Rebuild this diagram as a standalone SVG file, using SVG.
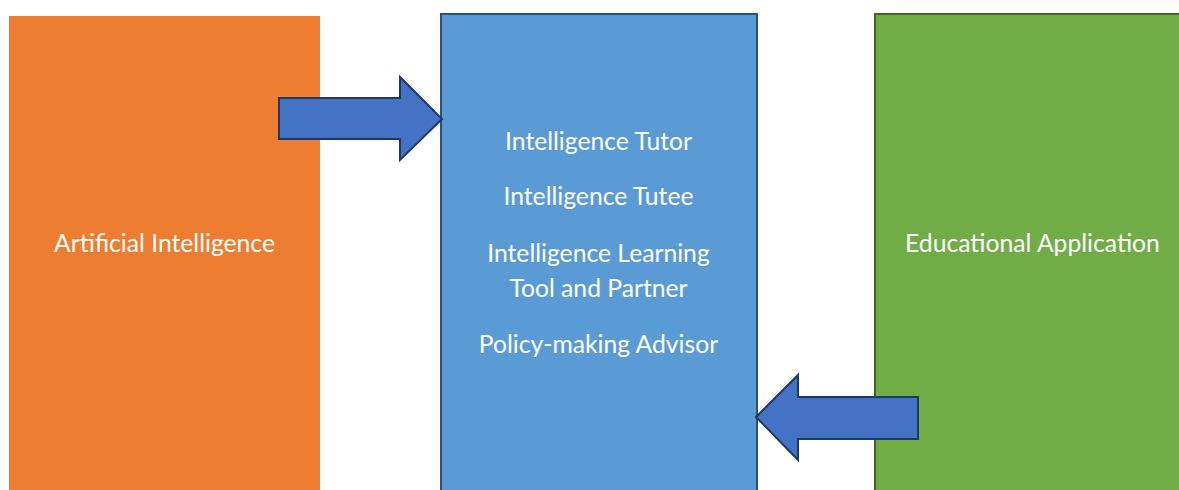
<svg xmlns="http://www.w3.org/2000/svg" width="1179" height="490" viewBox="0 0 1179 490">
  <style>
    .label { font-family: Lato, "Open Sans", "Liberation Sans", sans-serif; font-size: 24.7px; fill: #ffffff; text-anchor: middle; }
    .arrow { fill: #4472C4; stroke: #1F3864; stroke-width: 2; stroke-linejoin: miter; }
  </style>
  <rect width="1179" height="490" fill="#ffffff"/>

  <g id="node-ai">
    <rect x="9" y="16" width="311" height="480" fill="#ED7D31"/>
    <text class="label" x="164.5" y="252">Artificial Intelligence</text>
  </g>

  <g id="node-roles">
    <rect x="441" y="14" width="316" height="482" fill="#5B9BD5" stroke="#2E4F79" stroke-width="2"/>
    <text class="label" x="598.5" y="150">Intelligence Tutor</text>
    <text class="label" x="598.5" y="205">Intelligence Tutee</text>
    <text class="label" x="598.5" y="262">Intelligence Learning</text>
    <text class="label" x="598.5" y="297">Tool and Partner</text>
    <text class="label" x="598.5" y="353">Policy-making Advisor</text>
  </g>

  <g id="node-edu">
    <rect x="875" y="14" width="320" height="482" fill="#70AD47" stroke="#3F6428" stroke-width="2"/>
    <text class="label" x="1032.5" y="252">Educational Application</text>
  </g>

  <g id="connectors">
    <polygon class="arrow" points="279,98 400,98 400,77 442,119 400,160 400,139 279,139"/>
    <polygon class="arrow" points="918,397 798,397 798,375 756,417 798,460 798,439 918,439"/>
  </g>
</svg>
